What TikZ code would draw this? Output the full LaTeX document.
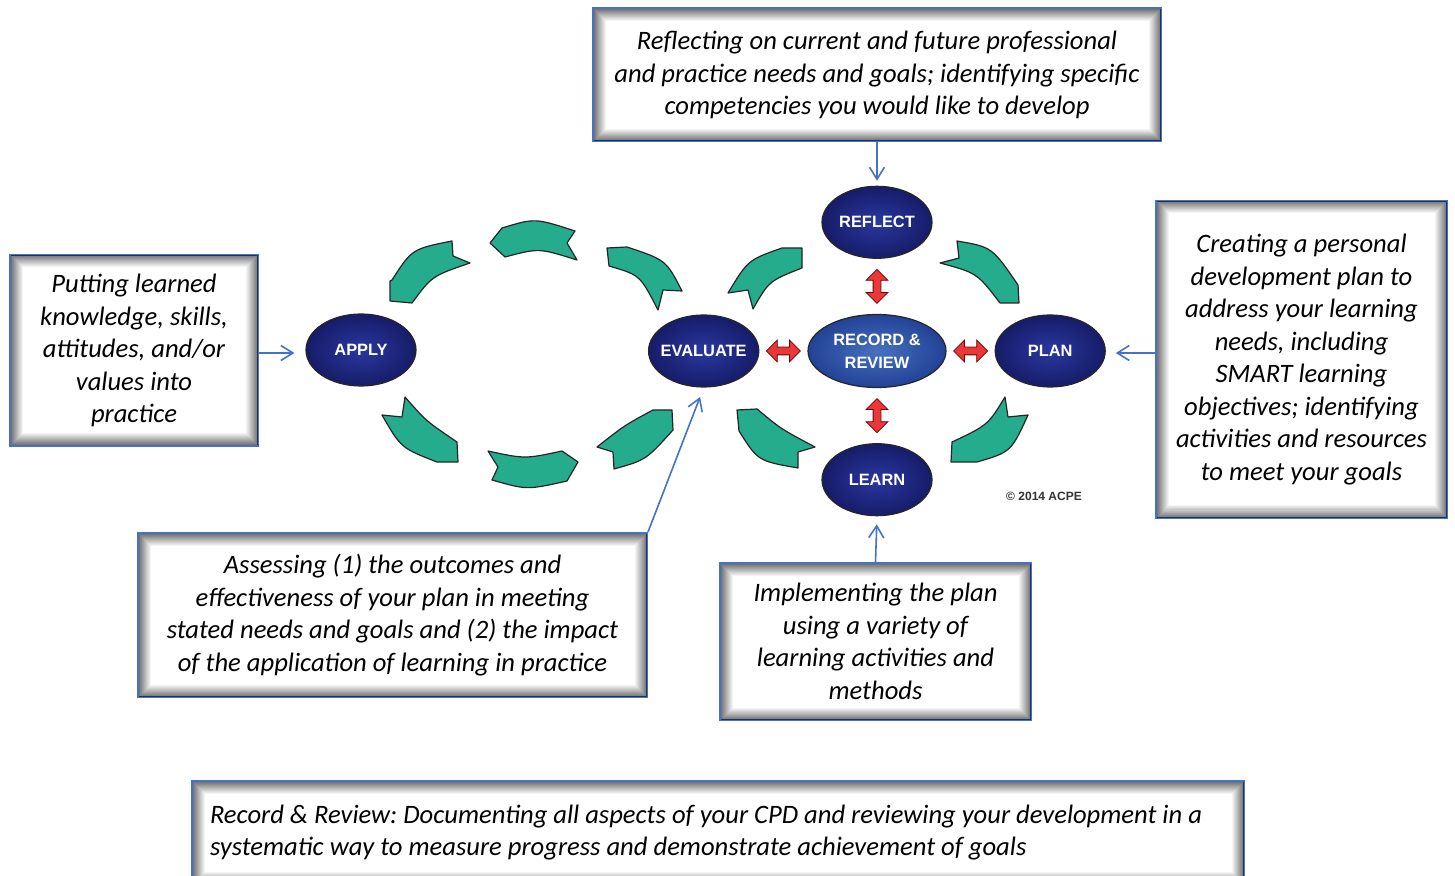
\documentclass[tikz,border=0pt]{standalone}
\usepackage{fontspec}
\setmainfont{Carlito}
\newfontfamily\labelfont{Liberation Sans}
\usetikzlibrary{shapes.geometric,shapes.arrows,arrows.meta,positioning}
\frenchspacing

\definecolor{notecol}{RGB}{68,114,196}
\definecolor{bandcol}{RGB}{36,172,140}
\definecolor{navyin}{RGB}{42,56,160}
\definecolor{navyout}{RGB}{22,28,104}
\definecolor{centertop}{RGB}{80,125,200}
\definecolor{centerbot}{RGB}{34,66,150}
\definecolor{dblred}{RGB}{232,56,58}

\tikzset{
  note/.style={draw=notecol, line width=1pt, fill=white, align=center, inner sep=0pt,
    font=\itshape\fontsize{13.3}{16.25}\selectfont},
  stage/.style={ellipse, draw=black!85, line width=0.6pt, inner color=navyin, outer color=navyout,
    text=white, font=\labelfont\bfseries\fontsize{8.2}{11.5}\selectfont,
    minimum width=55pt, minimum height=36pt, inner sep=0pt, align=center},
  band/.style={fill=bandcol, draw=black!85, line width=0.6pt, line join=round},
  dbl/.style={double arrow, draw=red!45!black, line width=0.4pt, fill=dblred, inner sep=1.75pt,
    minimum height=17pt, double arrow head extend=3.5pt},
  link/.style={draw=notecol, line width=0.8pt, -{Straight Barb[length=6pt,width=7.5pt]}}
}

% grey glow on the inside of a note
\newcommand\glowbox[1]{%
  \foreach \i in {2,...,13} {
    \pgfmathsetmacro\op{0.045*(14-\i)}
    \draw[black, opacity=\op, line width=0.5pt]
      ([shift={(\i,\i)}]#1.north west) rectangle ([shift={(-\i,-\i)}]#1.south east);
  }}

\begin{document}
\begin{tikzpicture}[x=0.5pt, y=-0.5pt, node distance=27.5pt and 24pt]
  \useasboundingbox (0,0) rectangle (1455,876);
  \fill[white] (0,0) rectangle (1455,876);

  % stages
  \node [stage, minimum width=69pt, minimum height=36.5pt,
         inner color=centertop!80!centerbot, outer color=centerbot] (record) at (877,351) {RECORD \&\\REVIEW};
  \node [stage] (reflect) [above=of record] {REFLECT};
  \node [stage] (learn) [below=of record] {LEARN};
  \node [stage, inner xsep=-2pt] (evaluate) [left=of record] {EVALUATE};
  \node [stage] (plan) [right=of record] {PLAN};
  \node [stage] (apply) at (361,350) {APPLY};
  \node [font=\labelfont\bfseries\fontsize{6}{7}\selectfont, text=black!80] (acpe) at (1044,496) {\textcopyright{} 2014 ACPE};

  % red double arrows
  \path (reflect.south) -- (record.north) node [dbl, midway, rotate=90] (d1) {};
  \path (record.south) -- (learn.north) node [dbl, midway, rotate=90] (d2) {};
  \path (evaluate.east) -- (record.west) node [dbl, midway] (d3) {};
  \path (record.east) -- (plan.west) node [dbl, midway] (d4) {};

  % cycle around record & review
  \draw[band] (728,293) .. controls (748,260) .. (782,248) -- (802,248) -- (802,268)
    .. controls (769,281) .. (753,309) -- (748,290) -- cycle;
  \draw[band] (957,241) .. controls (992,247) .. (1018,285) -- (1019,303) -- (1000,303)
    .. controls (977,273) .. (940,263) -- (959,258) -- cycle;
  \draw[band] (1005,397) -- (1008,417) -- (1028,415) .. controls (1011,452) .. (977,462)
    -- (951,462) -- (952,442) .. controls (988,425) .. (1005,397) -- cycle;
  \draw[band] (737,410) -- (757,409) .. controls (781,429) .. (815,447) -- (798,452)
    -- (798,468) .. controls (758,461) .. (739,431) -- cycle;

  % cycle between evaluate and apply
  \draw[band] (392,280) .. controls (412,249) .. (452,241) -- (453,256) -- (470,263)
    .. controls (432,276) .. (412,303) -- (390,301) -- (390,281) -- cycle;
  \draw[band] (490,243) -- (502,228) .. controls (535,218) .. (575,231) -- (567,243)
    -- (577,260) .. controls (539,248) .. (505,257) -- cycle;
  \draw[band] (607,248) -- (627,247) .. controls (666,260) .. (682,291) -- (663,290)
    -- (658,310) .. controls (640,275) .. (609,266) -- cycle;
  \draw[band] (382,415) -- (402,417) -- (405,397) .. controls (426,421) .. (457,442)
    -- (458,462) -- (437,462) .. controls (401,448) .. (382,415) -- cycle;
  \draw[band] (488,451) .. controls (525,459) .. (562,451) -- (578,462) -- (567,481)
    .. controls (527,490) .. (492,480) -- (498,467) -- cycle;
  \draw[band] (597,447) -- (613,452) -- (614,469) .. controls (646,460) .. (673,430)
    -- (672,410) -- (653,410) .. controls (625,425) .. (597,447) -- cycle;

  % notes
  \node [note, minimum width=284pt, minimum height=66.5pt] (reflectnote) at (877,75)
    {Reflecting on current and future professional\\and practice needs and goals; identifying specific\\competencies you would like to develop};
  \node [note, minimum width=124pt, minimum height=95.5pt] (applynote) at (134,350.5)
    {Putting learned\\knowledge, skills,\\attitudes, and/or\\values into\\practice};
  \node [note, minimum width=145.5pt, minimum height=158.5pt] (plannote) at (1301.5,359.5)
    {Creating a personal\\development plan to\\address your learning\\needs, including\\SMART learning\\objectives; identifying\\activities and resources\\to meet your goals};
  \node [note, minimum width=254.5pt, minimum height=82pt] (evalnote) at (392.5,615)
    {Assessing (1) the outcomes and\\effectiveness of your plan in meeting\\stated needs and goals and (2) the impact\\of the application of learning in practice};
  \node [note, minimum width=155.5pt, minimum height=78.5pt] (learnnote) at (875.5,641.5)
    {Implementing the plan\\using a variety of\\learning activities and\\methods};
  \node [note, minimum width=526pt, minimum height=51.5pt, text width=508pt, align=flush left,
         font=\itshape\fontsize{13.3}{16}\selectfont] (recordnote) at (718,832.5)
    {Record \& Review: Documenting all aspects of your CPD and reviewing your development in a\\systematic way to measure progress and demonstrate achievement of goals};
  \foreach \n in {reflectnote,applynote,plannote,evalnote,learnnote,recordnote}
    \glowbox{\n};

  % links
  \draw[link, shorten >=2.5pt] (reflectnote.south) -- (reflect.north);
  \draw[link, shorten >=5.5pt] (applynote.east |- 0,353) -- (apply.west |- 0,353);
  \draw[link, shorten >=5pt] (plannote.west |- 0,353) -- (plan.east |- 0,353);
  \draw[link, shorten >=5pt] (evalnote.north east) -- (evaluate.south);
  \draw[link, shorten >=4pt] (learnnote.north) -- (learn.south);
\end{tikzpicture}
\end{document}
